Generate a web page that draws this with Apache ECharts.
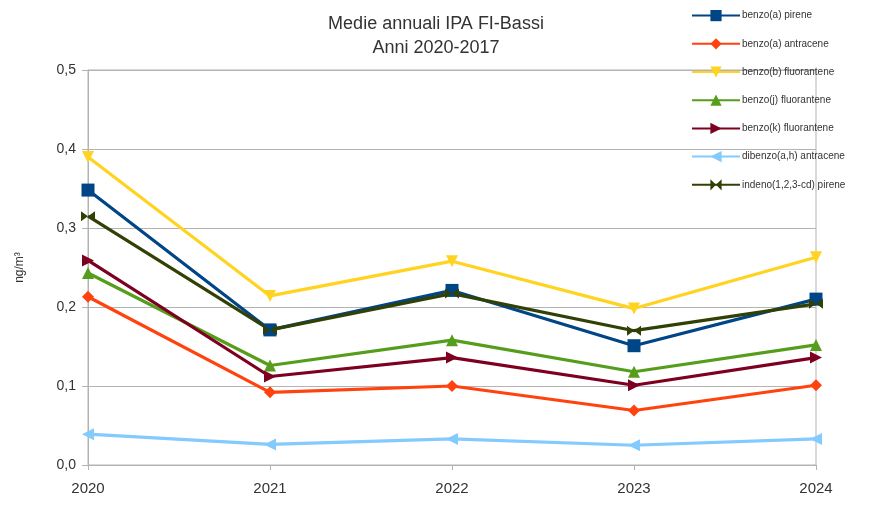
<!DOCTYPE html>
<html>
<head>
<meta charset="utf-8">
<script src="https://cdn.jsdelivr.net/npm/echarts@6/dist/echarts.min.js"></script>
<style>
  html, body { margin: 0; padding: 0; background: #ffffff; }
  #chart { width: 886px; height: 505px; }
</style>
</head>
<body>
<div id="chart"></div>
<script>
// Annual means of PAH compounds, FI-Bassi station (ng/m³)
const years = ['2020', '2021', '2022', '2023', '2024'];
const yTicks = [0, 0.1, 0.2, 0.3, 0.4, 0.5];

const benzoAPirene      = [0.348, 0.171, 0.221, 0.151, 0.210];
const benzoAAntracene   = [0.213, 0.092, 0.100, 0.069, 0.101];
const benzoBFluorantene = [0.390, 0.214, 0.258, 0.198, 0.263];
const benzoJFluorantene = [0.243, 0.126, 0.158, 0.118, 0.152];
const benzoKFluorantene = [0.259, 0.112, 0.136, 0.101, 0.136];
const dibenzoAHAntracene = [0.039, 0.026, 0.033, 0.025, 0.033];
const indenoPirene      = [0.315, 0.171, 0.217, 0.170, 0.204];

const bowtie = 'path://M0,0L10,5L0,10Z M20,0L10,5L20,10Z';

const seriesDefs = [
  { name: 'benzo(a) pirene',          data: benzoAPirene,       color: '#004586', symbol: 'rect',     size: 13, rot: 0 },
  { name: 'benzo(a) antracene',       data: benzoAAntracene,    color: '#ff420e', symbol: 'diamond',  size: 12, rot: 0 },
  { name: 'benzo(b) fluorantene',     data: benzoBFluorantene,  color: '#ffd320', symbol: 'triangle', size: 12, rot: 180 },
  { name: 'benzo(j) fluorantene',     data: benzoJFluorantene,  color: '#579d1c', symbol: 'triangle', size: 12, rot: 0 },
  { name: 'benzo(k) fluorantene',     data: benzoKFluorantene,  color: '#7e0021', symbol: 'triangle', size: 12, rot: -90 },
  { name: 'dibenzo(a,h) antracene',   data: dibenzoAHAntracene, color: '#83caff', symbol: 'triangle', size: 12, rot: 90 },
  { name: 'indeno(1,2,3-cd) pirene',  data: indenoPirene,       color: '#314004', symbol: bowtie,     size: [14, 10], rot: 0 }
];

const chart = echarts.init(document.getElementById('chart'), null, { renderer: 'canvas' });

chart.setOption({
  animation: false,
  backgroundColor: '#ffffff',
  textStyle: { fontFamily: 'Liberation Sans, Arial, sans-serif' },
  title: {
    text: 'Medie annuali IPA FI-Bassi\nAnni 2020-2017',
    left: 431,
    textAlign: 'center',
    top: 7,
    textStyle: {
      fontSize: 18,
      fontWeight: 'normal',
      color: '#333333',
      lineHeight: 24,
      fontFamily: 'Liberation Sans, Arial, sans-serif'
    }
  },
  legend: {
    orient: 'vertical',
    left: 686,
    top: 5,
    itemWidth: 48,
    itemHeight: 14,
    itemGap: 17,
    textStyle: { fontSize: 10, color: '#333333', padding: [0, 0, 0, -3] },
    data: seriesDefs.map(s => s.name)
  },
  grid: {
    left: 88,
    right: 70,
    top: 70,
    bottom: 40,
    show: true,
    borderColor: '#b3b3b3',
    borderWidth: 1
  },
  xAxis: {
    type: 'category',
    data: years,
    boundaryGap: false,
    axisLine: { lineStyle: { color: '#b3b3b3', width: 1 } },
    axisTick: { show: true, length: 5, alignWithLabel: true, lineStyle: { color: '#b3b3b3' } },
    axisLabel: { color: '#333333', fontSize: 15, margin: 16 },
    splitLine: { show: false }
  },
  yAxis: {
    type: 'value',
    min: yTicks[0],
    max: yTicks[yTicks.length - 1],
    interval: 0.1,
    name: 'ng/m³',
    nameLocation: 'middle',
    nameGap: 62,
    nameRotate: 90,
    nameTextStyle: { fontSize: 12, color: '#333333' },
    axisLine: { show: true, lineStyle: { color: '#b3b3b3', width: 1 } },
    axisTick: { show: true, length: 6, lineStyle: { color: '#b3b3b3' } },
    axisLabel: {
      color: '#333333',
      fontSize: 14,
      margin: 12,
      formatter: v => v.toFixed(1).replace('.', ',')
    },
    splitLine: { show: true, lineStyle: { color: '#b3b3b3', width: 1 } }
  },
  series: seriesDefs.map(s => ({
    name: s.name,
    type: 'line',
    data: s.data,
    symbol: s.symbol,
    symbolSize: s.size,
    symbolRotate: s.rot,
    showAllSymbol: true,
    lineStyle: { color: s.color, width: 3.2 },
    itemStyle: { color: s.color, borderWidth: 0 },
    emphasis: { disabled: true }
  }))
});
</script>
</body>
</html>
